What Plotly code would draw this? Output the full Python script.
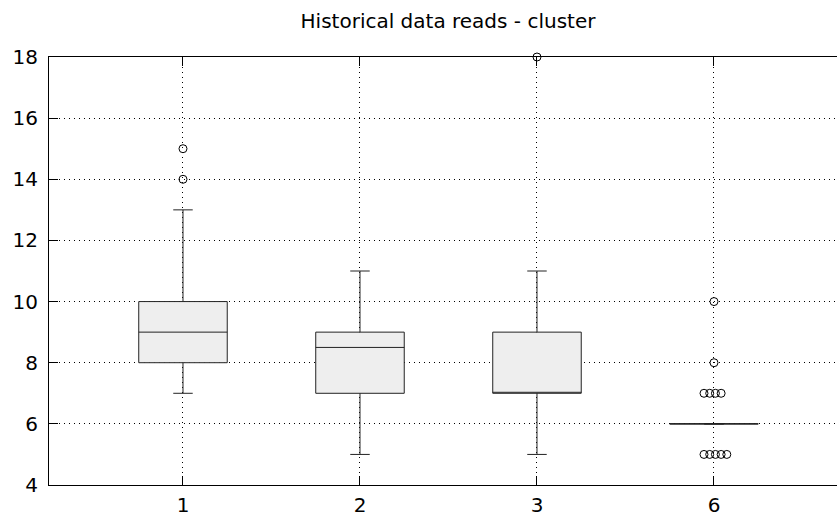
import plotly.graph_objects as go

# ---- data ----
categories = ["1", "2", "3", "6"]
q1 = [8, 7, 7, 6]
median = [9, 8.5, 7, 6]
q3 = [10, 9, 9, 6]
lower_whisker = [7, 5, 5, 6]
upper_whisker = [13, 11, 11, 6]
# outliers per category: (value, count)
outliers = {
    "1": [(14, 1), (15, 1)],
    "2": [],
    "3": [(18, 1)],
    "6": [(5, 5), (7, 4), (8, 1), (10, 1)],
}

positions = list(range(1, len(categories) + 1))

fig = go.Figure()
fig.add_trace(go.Box(
    x=positions,
    q1=q1, median=median, q3=q3,
    lowerfence=lower_whisker, upperfence=upper_whisker,
    boxpoints=False,
    width=0.5,
    whiskerwidth=0.22,
    fillcolor="#eeeeee",
    line=dict(color="#222222", width=1),
    showlegend=False,
    hoverinfo="skip",
))

# outliers, duplicates spread horizontally
step = 0.0322
ox, oy = [], []
for pos, cat in zip(positions, categories):
    for val, cnt in outliers[cat]:
        for k in range(cnt):
            off = 0 if cnt == 1 else (k - 1.75) * step
            ox.append(pos + off)
            oy.append(val)
fig.add_trace(go.Scatter(
    x=ox, y=oy, mode="markers",
    marker=dict(symbol="circle-open", size=8, color="black", line=dict(width=1, color="black")),
    cliponaxis=False, showlegend=False, hoverinfo="skip",
))

font = dict(family="DejaVu Sans", size=20, color="black")
axis_common = dict(
    showgrid=True, gridcolor="black", gridwidth=1, griddash="1px,4px",
    showline=True, linecolor="black", linewidth=1,
    ticks="inside", ticklen=9, tickcolor="black", tickwidth=1,
    zeroline=False, tickfont=font, automargin=False,
)
fig.update_xaxes(range=[0.243, 4.695], tickvals=positions, ticktext=categories,
                 mirror="ticks", ticklabelstandoff=2, **axis_common)
fig.update_yaxes(range=[4, 18], dtick=2, tick0=4, mirror=False, ticklabelstandoff=6, **axis_common)

fig.update_layout(
    width=837, height=517,
    margin=dict(l=49, r=0, t=57, b=32, pad=0),
    paper_bgcolor="white", plot_bgcolor="white",
    title=dict(text="Historical data reads - cluster", font=dict(family="DejaVu Sans", size=20, color="black"),
               x=448 / 837, xref="container", xanchor="center",
               y=1 - 21 / 517, yref="container", yanchor="middle"),
    font=font,
)
fig.write_html("out.html")
